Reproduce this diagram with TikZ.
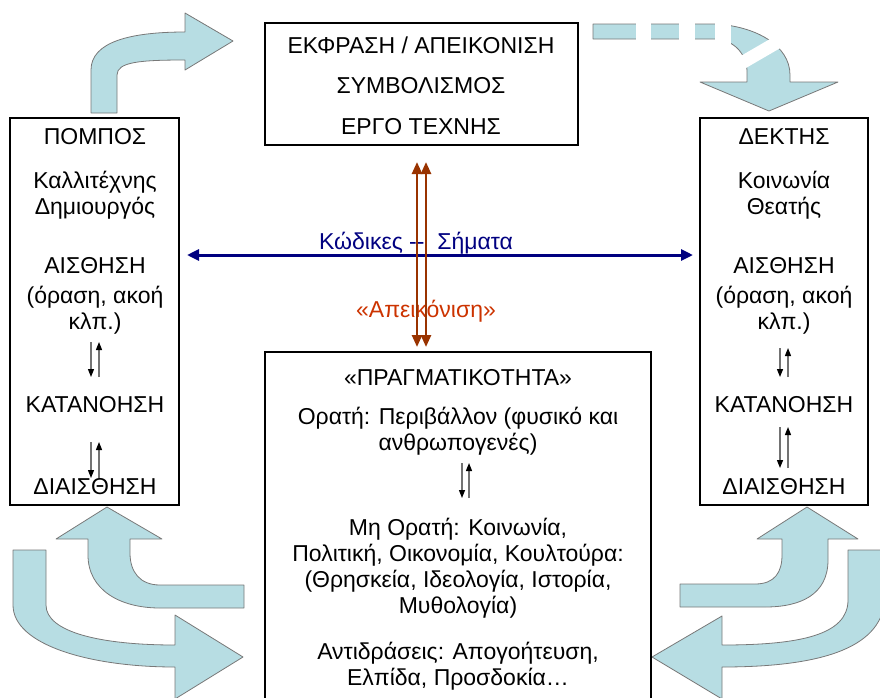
\documentclass[tikz,border=0pt]{standalone}
\usepackage{fontspec}
\setmainfont{Liberation Sans}
\usetikzlibrary{arrows.meta}
\definecolor{flowfill}{RGB}{183,221,227}
\definecolor{flowedge}{RGB}{120,120,120}
\definecolor{codeblue}{RGB}{0,0,128}
\definecolor{rustline}{RGB}{153,51,0}
\definecolor{rusttext}{RGB}{204,51,0}
\begin{document}
\begin{tikzpicture}[x=1pt,y=-1pt,
  frame/.style={draw=black, line width=2.5pt, inner sep=0pt},
  txt/.style={font=\fontsize{23}{26}\selectfont, inner sep=0pt, align=center},
  flow/.style={fill=flowfill, draw=flowedge, line width=0.8pt, line join=round},
  gap/.style={fill=white, draw=none},
  thin/.style={draw=black!55, line width=1.3pt, -{Triangle[length=8pt,width=6pt,color=black]}},
  codes/.style={draw=codeblue, line width=3pt, {Triangle[length=12pt,width=11pt]}-{Triangle[length=12pt,width=11pt]}},
  depict/.style={draw=rustline, line width=2.5pt, {Triangle[length=12pt,width=10pt]}-{Triangle[length=12pt,width=10pt]}}
]
\path[use as bounding box] (0,0) rectangle (880,697);
\clip (0,0) rectangle (880,697);

% ---------- block arrows ----------
% sender -> artwork
\path[flow] (91,113) -- (91,70) .. controls (91,42) and (130,32) .. (185,32)
  -- (185,13) -- (233,41) -- (185,70) -- (185,60)
  .. controls (140,60) and (117,62) .. (117,75) -- (117,113) -- cycle;
% artwork -> receiver (dashed band)
\path[flow] (593,24) -- (715,24) .. controls (755,26) and (790,45) .. (790,75)
  -- (790,82) -- (838,82) -- (769,111) -- (700,82) -- (747,82) -- (747,72)
  .. controls (747,55) and (735,40) .. (715,39) -- (593,39) -- cycle;
\fill[gap] (636,18) rectangle (651,45);
\fill[gap] (679,18) rectangle (695,45);
\fill[gap] (715,18) rectangle (731,45);
\draw[white, line width=13pt] (733,68) -- (795,32);

% lower left pair
\path[flow] (244,585) -- (160,585) .. controls (140,585) and (130,572) .. (130,553)
  -- (130,539) -- (162,539) -- (107,507) -- (56,539) -- (88,539) -- (88,555)
  .. controls (88,590) and (120,608) .. (160,608) -- (244,608) -- cycle;
\path[flow] (13,550) -- (46,550) -- (46,605) .. controls (46,632) and (100,645) .. (175,645)
  -- (175,615) -- (243,657) -- (175,699) -- (175,667)
  .. controls (90,667) and (13,645) .. (13,605) -- cycle;

% lower right pair
\path[flow] (680,584) -- (755,584) .. controls (775,584) and (782,572) .. (782,555)
  -- (782,539) -- (757,539) -- (807,507) -- (858,539) -- (828,539) -- (828,560)
  .. controls (828,595) and (800,607) .. (765,607) -- (680,607) -- cycle;
\path[flow] (848,550) -- (848,600) .. controls (848,635) and (800,645) .. (722,645)
  -- (722,616) -- (652,657) -- (722,699) -- (722,667)
  .. controls (840,667) and (885,640) .. (885,595) -- (885,550) -- cycle;

% ---------- frames ----------
\node[frame, minimum width=313, minimum height=122] (art) at (421.5,84) {};
\node[frame, minimum width=169, minimum height=387] (sender) at (94.5,311.5) {};
\node[frame, minimum width=168, minimum height=387] (receiver) at (784,311.5) {};
\node[frame, minimum width=386, minimum height=353] (reality) at (458,528.5) {};

% ---------- texts ----------
\node[txt] (a1) at (421,45) {ΕΚΦΡΑΣΗ / ΑΠΕΙΚΟΝΙΣΗ};
\node[txt] (a2) at (421,86) {ΣΥΜΒΟΛΙΣΜΟΣ};
\node[txt] (a3) at (421,127) {ΕΡΓΟ ΤΕΧΝΗΣ};

\node[txt] (s1) at (95,137) {ΠΟΜΠΟΣ};
\node[txt] (s2) at (95,195) {Καλλιτέχνης\\Δημιουργός};
\node[txt] (s3) at (95,266) {ΑΙΣΘΗΣΗ};
\node[txt] (s4) at (95,310) {(όραση, ακοή\\κλπ.)};
\node[txt] (s5) at (95,405) {ΚΑΤΑΝΟΗΣΗ};
\node[txt] (s6) at (95,487) {ΔΙΑΙΣΘΗΣΗ};

\node[txt] (r1) at (784,137) {ΔΕΚΤΗΣ};
\node[txt] (r2) at (784,195) {Κοινωνία\\Θεατής};
\node[txt] (r3) at (784,266) {ΑΙΣΘΗΣΗ};
\node[txt] (r4) at (784,310) {(όραση, ακοή\\κλπ.)};
\node[txt] (r5) at (784,405) {ΚΑΤΑΝΟΗΣΗ};
\node[txt] (r6) at (784,487) {ΔΙΑΙΣΘΗΣΗ};

\node[txt] (p1) at (458,378) {«ΠΡΑΓΜΑΤΙΚΟΤΗΤΑ»};
\node[txt] (p2) at (458,431) {Ορατή: Περιβάλλον (φυσικό και\\ανθρωπογενές)};
\node[txt] (p3) at (458,568) {Μη Ορατή: Κοινωνία,\\Πολιτική, Οικονομία, Κουλτούρα:\\(Θρησκεία, Ιδεολογία, Ιστορία,\\Μυθολογία)};
\node[txt] (p4) at (458,666) {Αντιδράσεις: Απογοήτευση,\\Ελπίδα, Προσδοκία…};

\node[txt, text=codeblue] (codes) at (416,243) {Κώδικες -{}-\ \ Σήματα};
\node[txt, text=rusttext] (repr) at (426,311) {«Απεικόνιση»};

% ---------- small two-way arrows ----------
\coordinate (sa1) at (91,342);  \coordinate (sa2) at (91,377);
\coordinate (sb1) at (99,377);  \coordinate (sb2) at (99,342);
\coordinate (sc1) at (91,442);  \coordinate (sc2) at (91,478);
\coordinate (sd1) at (99,478);  \coordinate (sd2) at (99,442);
\draw[thin] (sa1) -- (sa2); \draw[thin] (sb1) -- (sb2);
\draw[thin] (sc1) -- (sc2); \draw[thin] (sd1) -- (sd2);

\coordinate (ra1) at (780,348); \coordinate (ra2) at (780,377);
\coordinate (rb1) at (788,377); \coordinate (rb2) at (788,348);
\coordinate (rc1) at (780,427); \coordinate (rc2) at (780,468);
\coordinate (rd1) at (788,468); \coordinate (rd2) at (788,427);
\draw[thin] (ra1) -- (ra2); \draw[thin] (rb1) -- (rb2);
\draw[thin] (rc1) -- (rc2); \draw[thin] (rd1) -- (rd2);

\coordinate (pa1) at (462,463); \coordinate (pa2) at (462,498);
\coordinate (pb1) at (469,498); \coordinate (pb2) at (469,463);
\draw[thin] (pa1) -- (pa2); \draw[thin] (pb1) -- (pb2);

% ---------- codes line and depiction arrows ----------
\coordinate (cw) at (187,255); \coordinate (ce) at (693,255);
\draw[codes] (cw) -- (ce);
\coordinate (d1t) at (417,162); \coordinate (d1b) at (417,347);
\coordinate (d2t) at (426,162); \coordinate (d2b) at (426,347);
\draw[depict] (d1t) -- (d1b);
\draw[depict] (d2t) -- (d2b);
\end{tikzpicture}
\end{document}
